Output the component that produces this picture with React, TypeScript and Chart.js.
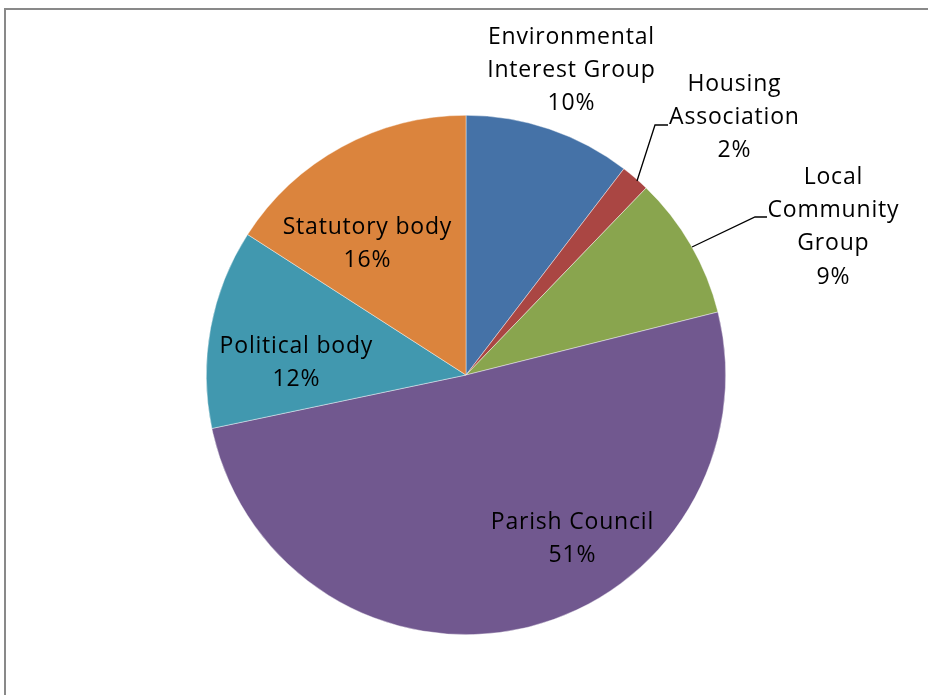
import React, { useEffect, useRef } from "react";
import { Chart, registerables } from "chart.js";

Chart.register(...registerables);

const categories = [
  "Environmental Interest Group",
  "Housing Association",
  "Local Community Group",
  "Parish Council",
  "Political body",
  "Statutory body",
];
const values = [10.4, 1.8, 8.9, 50.6, 12.4, 15.9];
const colors = ["#4572A7", "#AA4643", "#89A54E", "#71588F", "#4198AF", "#DB843D"];
const labelLines = [
  ["Environmental", "Interest Group"],
  ["Housing", "Association"],
  ["Local", "Community", "Group"],
  ["Parish Council"],
  ["Political body"],
  ["Statutory body"],
];
// label anchor: center x, first baseline y
const labelPos = [
  [571, 44],
  [734, 91],
  [833, 184],
  [572, 529],
  [296, 353],
  [367, 234],
];
// leader lines (edge point, elbow, end)
const leaders: (number[][] | null)[] = [
  null,
  [[637, 181], [655, 125], [668, 125]],
  [[692, 247], [755, 217], [767, 217]],
  null,
  null,
  null,
];

const FONT = "23px 'Open Sans'";
const LINE_H = 33.2;

const labelPlugin = {
  id: "pieLabels",
  afterDraw(chart: any) {
    const ctx = chart.ctx as CanvasRenderingContext2D;
    ctx.save();
    ctx.strokeStyle = "#898989";
    ctx.lineWidth = 2;
    ctx.strokeRect(5, 9, 1000, 800);
    const total = values.reduce((a, b) => a + b, 0);
    ctx.fillStyle = "#000";
    ctx.font = FONT;
    (ctx as any).letterSpacing = "0.8px";
    ctx.textAlign = "center";
    ctx.textBaseline = "alphabetic";
    labelLines.forEach((lines, i) => {
      const [cx, by] = labelPos[i];
      const all = [...lines, Math.round((values[i] / total) * 100) + "%"];
      all.forEach((t, j) => ctx.fillText(t, cx + 0.4, by + j * LINE_H));
    });
    ctx.strokeStyle = "#000";
    ctx.lineWidth = 1.3;
    leaders.forEach((pts) => {
      if (!pts) return;
      ctx.beginPath();
      ctx.moveTo(pts[0][0], pts[0][1]);
      for (let k = 1; k < pts.length; k++) ctx.lineTo(pts[k][0], pts[k][1]);
      ctx.stroke();
    });
    ctx.restore();
  },
};

export default function App() {
  const ref = useRef<HTMLCanvasElement>(null);
  useEffect(() => {
    if (!ref.current) return;
    const chart = new Chart(ref.current, {
      type: "pie",
      data: {
        labels: categories,
        datasets: [
          {
            data: values,
            backgroundColor: colors,
            borderColor: "rgba(255,255,255,0.7)",
            borderWidth: 0.6,
          },
        ],
      },
      options: {
        responsive: false,
        animation: false,
        layout: { padding: { top: 115, bottom: 60, left: 4, right: 0 } },
        plugins: {
          legend: { display: false },
          tooltip: { enabled: false },
        },
      },
      plugins: [labelPlugin],
    });
    return () => chart.destroy();
  }, []);
  return (
    <div style={{ position: "fixed", left: 0, top: 0, width: 928, height: 695, background: "#fff" }}>
      <canvas ref={ref} width={928} height={695} style={{ width: 928, height: 695, display: "block" }} />
    </div>
  );
}
